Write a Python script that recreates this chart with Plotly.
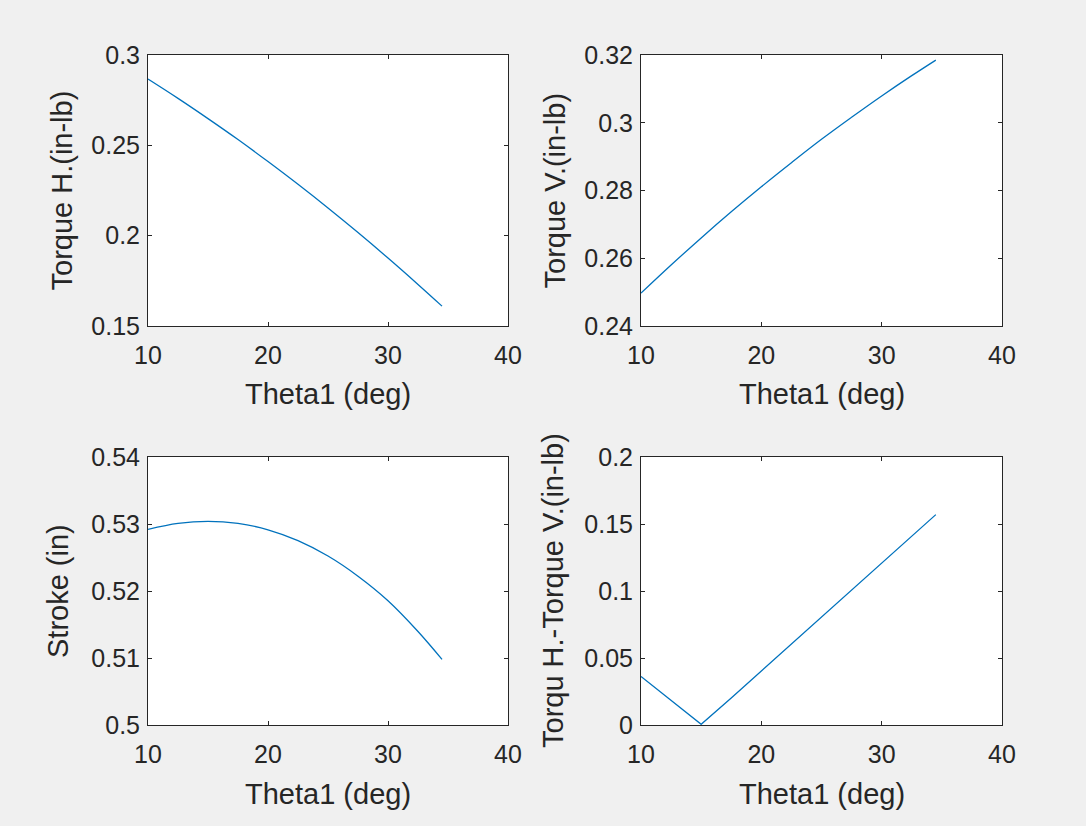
import plotly.graph_objects as go

# ---------------- data ----------------
theta = [10, 12.5, 15, 17.5, 20, 22.5, 25, 27.5, 30, 32.5, 34.5]
torque_h = [0.2867, 0.2760, 0.2648, 0.2532, 0.2410, 0.2284, 0.2153, 0.2017, 0.1876, 0.1730, 0.1610]
torque_v = [0.2497, 0.2580, 0.2660, 0.2737, 0.2811, 0.2882, 0.2951, 0.3016, 0.3079, 0.3139, 0.3185]
stroke = [0.52920, 0.53009, 0.53040, 0.53009, 0.52914, 0.52752, 0.52522, 0.52221, 0.51855, 0.51396, 0.50980]
torque_diff = [0.0362, 0.0180, 0.0005, 0.0201, 0.0403, 0.0604, 0.0805, 0.1006, 0.1208, 0.1409, 0.1570]

x_ticks = [10, 20, 30, 40]
x_ticktext = ["10", "20", "30", "40"]
yt_h = [0.15, 0.2, 0.25, 0.3]
yt_h_text = ["0.15", "0.2", "0.25", "0.3"]
yt_v = [0.24, 0.26, 0.28, 0.3, 0.32]
yt_v_text = ["0.24", "0.26", "0.28", "0.3", "0.32"]
yt_s = [0.5, 0.51, 0.52, 0.53, 0.54]
yt_s_text = ["0.5", "0.51", "0.52", "0.53", "0.54"]
yt_d = [0, 0.05, 0.1, 0.15, 0.2]
yt_d_text = ["0", "0.05", "0.1", "0.15", "0.2"]

x_title = "Theta1 (deg)"
y_titles = ["Torque H.(in-lb)", "Torque V.(in-lb)", "Stroke (in)", "Torqu H.-Torque V.(in-lb)"]

# ---------------- figure ----------------
W, H = 1086, 826
LINE_COLOR = "#0072BD"
AX_COLOR = "#262626"
FONT = "Liberation Sans, Arial, Helvetica, sans-serif"

xdom_l = [148 / W, 508 / W]
xdom_r = [641 / W, 1002 / W]
ydom_t = [1 - 326 / H, 1 - 55 / H]
ydom_b = [1 - 725 / H, 1 - 457 / H]

fig = go.Figure()
series = [
    (torque_h, "x", "y", "spline"),
    (torque_v, "x2", "y2", "spline"),
    (stroke, "x3", "y3", "spline"),
    (torque_diff, "x4", "y4", "linear"),
]
for ys, xa, ya, shape in series:
    fig.add_trace(go.Scatter(
        x=theta, y=ys, xaxis=xa, yaxis=ya, mode="lines",
        line=dict(color=LINE_COLOR, width=1.3, shape=shape),
        showlegend=False, hoverinfo="skip",
    ))


def xax(dom, anchor):
    return dict(domain=dom, anchor=anchor, range=[10, 40], tickvals=x_ticks, ticktext=x_ticktext,
                ticks="inside", ticklen=4, tickcolor=AX_COLOR, showline=True, linecolor=AX_COLOR,
                linewidth=1, mirror="ticks", showgrid=False, zeroline=False, automargin=False,
                tickfont=dict(family=FONT, size=25, color=AX_COLOR), ticklabelstandoff=7)


def yax(dom, anchor, rng, tv, tt):
    return dict(domain=dom, anchor=anchor, range=rng, tickvals=tv, ticktext=tt,
                ticks="inside", ticklen=4, tickcolor=AX_COLOR, showline=True, linecolor=AX_COLOR,
                linewidth=1, mirror="ticks", showgrid=False, zeroline=False, automargin=False,
                tickfont=dict(family=FONT, size=25, color=AX_COLOR), ticklabelstandoff=2)


fig.update_layout(
    width=W, height=H,
    margin=dict(l=0, r=0, t=0, b=0, pad=0, autoexpand=False),
    paper_bgcolor="#f0f0f0", plot_bgcolor="white",
    showlegend=False,
    xaxis=xax(xdom_l, "y"), yaxis=yax(ydom_t, "x", [0.15, 0.3], yt_h, yt_h_text),
    xaxis2=xax(xdom_r, "y2"), yaxis2=yax(ydom_t, "x2", [0.24, 0.32], yt_v, yt_v_text),
    xaxis3=xax(xdom_l, "y3"), yaxis3=yax(ydom_b, "x3", [0.5, 0.54], yt_s, yt_s_text),
    xaxis4=xax(xdom_r, "y4"), yaxis4=yax(ydom_b, "x4", [0, 0.2], yt_d, yt_d_text),
)

title_font = dict(family=FONT, size=29, color=AX_COLOR)
# x-axis titles
for xc, yc in [((148 + 508) / 2, 394), ((641 + 1002) / 2, 394), ((148 + 508) / 2, 794), ((641 + 1002) / 2, 794)]:
    fig.add_annotation(text=x_title, xref="paper", yref="paper", x=xc / W, y=1 - yc / H,
                       xanchor="center", yanchor="middle", showarrow=False, font=title_font)
# y-axis titles
for txt, xc, yc in zip(y_titles, [61, 554, 58, 553],
                       [(55 + 326) / 2, (55 + 326) / 2, (457 + 725) / 2, (457 + 725) / 2]):
    fig.add_annotation(text=txt, xref="paper", yref="paper", x=xc / W, y=1 - yc / H,
                       xanchor="center", yanchor="middle", textangle=-90, showarrow=False,
                       font=title_font)

fig.write_html("out.html", config={"displayModeBar": False},
               post_script="document.body.style.margin='0';document.body.style.overflow='hidden';")
